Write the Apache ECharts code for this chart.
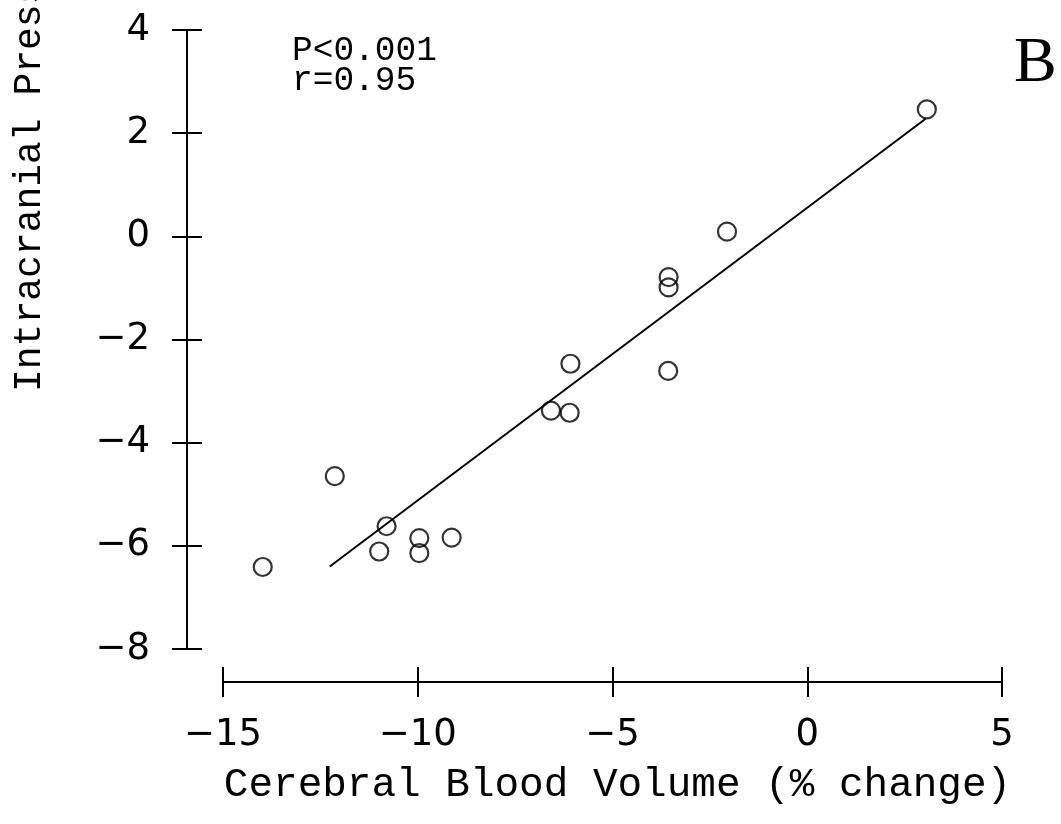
<!DOCTYPE html>
<html>
<head>
<meta charset="utf-8">
<title>Intracranial Pressure vs Cerebral Blood Volume</title>
<script src="https://cdn.jsdelivr.net/npm/echarts@6/dist/echarts.min.js"></script>
<style>
  html, body { margin: 0; padding: 0; background: #fff; }
  #chart { width: 1061px; height: 824px; }
</style>
</head>
<body>
<div id="chart"></div>
<script>
// Cerebral blood volume change (%) and intracranial pressure change per subject
var cbvChange = [-13.98, -12.13, -10.80, -10.99, -9.96, -9.96, -9.13, -6.58, -6.10, -6.08, -3.56, -3.56, -3.57, -2.06, 3.07];
var icpChange = [-6.41, -4.65, -5.62, -6.11, -5.85, -6.14, -5.84, -3.38, -3.42, -2.47, -0.79, -0.99, -2.61, 0.09, 2.46];

// Regression line end points [cbv, icp]
var fitStart = [-12.26, -6.40];
var fitEnd = [3.04, 2.28];

// Axis ranges and tick steps
var xTicks = [-15, -10, -5, 0, 5];
var yTicks = [-8, -6, -4, -2, 0, 2, 4];

var statsText = ['P<0.001', 'r=0.95'];
var panelLetter = 'B';
var xTitle = 'Cerebral Blood Volume (% change)';
var yTitle = 'Intracranial Pressure (mm Hg)';

var points = cbvChange.map(function (x, i) { return [x, icpChange[i]]; });

var labelFont = '"DejaVu Sans", "Liberation Sans", sans-serif';
var monoFont = '"Liberation Mono", "DejaVu Sans Mono", monospace';

function tickLabel(v) {
  return v < 0 ? '\u2212' + Math.abs(v) : String(v);
}

// Each axis is drawn twice: once with outward ticks, labels and line,
// once with inward ticks only, so the ticks cross the axis line.
function xAxisDef(inside) {
  return {
    type: 'value',
    position: 'bottom',
    offset: 33,
    min: xTicks[0],
    max: xTicks[xTicks.length - 1],
    interval: xTicks[1] - xTicks[0],
    axisLine: { show: true, onZero: false, lineStyle: { color: '#000', width: 2 } },
    axisTick: { show: true, inside: inside, length: 15, lineStyle: { color: '#000', width: 2 } },
    axisLabel: {
      show: !inside, margin: 35, color: '#000',
      fontFamily: labelFont, fontSize: 37, formatter: tickLabel
    },
    splitLine: { show: false },
    name: inside ? '' : xTitle,
    nameLocation: 'middle',
    nameGap: 103,
    nameTextStyle: {
      color: '#000', fontFamily: monoFont, fontSize: 41,
      verticalAlign: 'middle', padding: [0, 0, 0, 10]
    }
  };
}

function yAxisDef(inside) {
  return {
    type: 'value',
    position: 'left',
    offset: 36,
    min: yTicks[0],
    max: yTicks[yTicks.length - 1],
    interval: yTicks[1] - yTicks[0],
    axisLine: { show: true, onZero: false, lineStyle: { color: '#000', width: 2 } },
    axisTick: { show: true, inside: inside, length: 15, lineStyle: { color: '#000', width: 2 } },
    axisLabel: {
      show: !inside, margin: 37, color: '#000',
      fontFamily: labelFont, fontSize: 37, formatter: tickLabel
    },
    splitLine: { show: false }
  };
}

var chart = echarts.init(document.getElementById('chart'), null, { renderer: 'canvas' });

chart.setOption({
  animation: false,
  backgroundColor: '#fff',
  grid: { left: 223, right: 59, top: 30, bottom: 175, containLabel: false },
  xAxis: [xAxisDef(false), xAxisDef(true)],
  yAxis: [yAxisDef(false), yAxisDef(true)],
  graphic: [
    {
      type: 'text', x: 30, y: 392, rotation: Math.PI / 2,
      style: {
        text: yTitle, fill: '#000', font: '38px ' + monoFont,
        align: 'left', verticalAlign: 'middle'
      }
    },
    {
      type: 'text', x: 292, y: 36,
      style: {
        text: statsText.join('\n'), fill: '#000', font: '34.5px ' + monoFont,
        lineHeight: 30, align: 'left', verticalAlign: 'top'
      }
    },
    {
      type: 'text', x: 1014, y: 64,
      style: {
        text: panelLetter, fill: '#000', font: '64px "Liberation Serif", "Times New Roman", serif',
        align: 'left', verticalAlign: 'middle'
      }
    }
  ],
  series: [
    {
      // fitted regression line, on the twin axes (same ranges as the main axes)
      type: 'line',
      xAxisIndex: 1, yAxisIndex: 1,
      data: [fitStart, fitEnd],
      showSymbol: false,
      lineStyle: { color: '#000', width: 2 },
      z: 2
    },
    {
      type: 'scatter',
      xAxisIndex: 0, yAxisIndex: 0,
      data: points,
      symbol: 'circle',
      symbolSize: 18,
      itemStyle: { color: 'rgba(255,255,255,0)', borderColor: '#000', borderWidth: 2.2 },
      z: 3
    }
  ]
});
</script>
</body>
</html>
